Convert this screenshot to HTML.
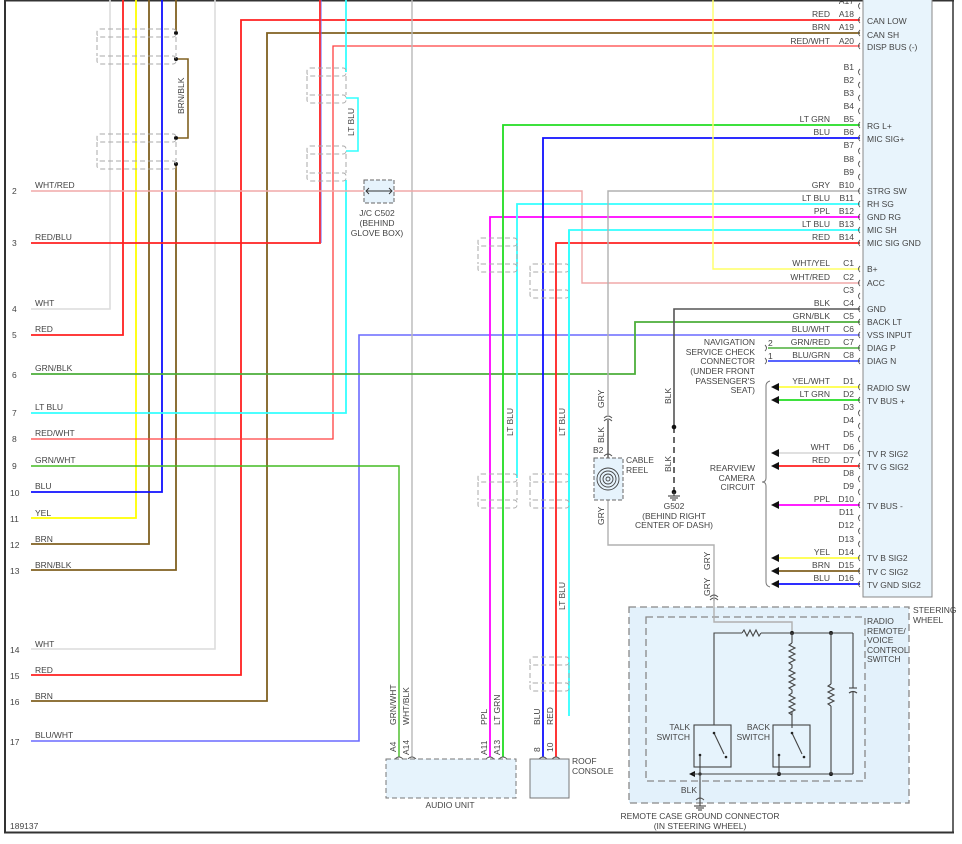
<!DOCTYPE html>
<html><head><meta charset="utf-8"><style>
html,body{margin:0;padding:0;background:#fff}
svg{display:block}
text{font-family:"Liberation Sans",Arial,sans-serif;font-size:8.5px;fill:#444}
</style></head><body>
<svg width="962" height="844" viewBox="0 0 962 844" xmlns="http://www.w3.org/2000/svg">
<rect x="0" y="0" width="962" height="844" fill="#fff"/>
<!-- frame -->
<line x1="5" y1="0" x2="5" y2="833" stroke="#333" stroke-width="2"/>
<line x1="4" y1="832.5" x2="954" y2="832.5" stroke="#333" stroke-width="2"/>
<line x1="953" y1="0" x2="953" y2="833" stroke="#333" stroke-width="1.5"/>
<line x1="4" y1="0.5" x2="954" y2="0.5" stroke="#333" stroke-width="2"/>

<!-- right component -->
<rect x="863" y="-2" width="69" height="599" fill="#e8f4fc" stroke="#888" stroke-width="1"/>

<!-- steering wheel boxes -->
<rect x="629" y="607" width="280" height="196" fill="#e3f1fb" stroke="#888" stroke-width="1.3" stroke-dasharray="7,4"/>
<rect x="646" y="617" width="219" height="164" fill="#e6f3fc" stroke="#888" stroke-width="1.3" stroke-dasharray="7,4"/>

<g fill="none" stroke-linejoin="miter">
<!-- left verticals going up -->
<polyline points="31,309 110,309 110,0" stroke="#dcdcdc" stroke-width="1.6"/>
<polyline points="31,335 123,335 123,0" stroke="#ff2020" stroke-width="1.8"/>
<polyline points="31,518 136,518 136,0" stroke="#ffff00" stroke-width="1.8"/>
<polyline points="31,544 149,544 149,0" stroke="#806020" stroke-width="1.8"/>
<polyline points="31,492 162,492 162,0" stroke="#1010ff" stroke-width="1.8"/>
<polyline points="31,570 176,570 176,164" stroke="#806020" stroke-width="1.8"/>
<polyline points="176,138 188,138 188,59 176,59" stroke="#806020" stroke-width="1.6"/>
<line x1="176" y1="33" x2="176" y2="0" stroke="#806020" stroke-width="1.8"/>
<polyline points="31,649 215,649 215,0" stroke="#dcdcdc" stroke-width="1.6"/>
<polyline points="31,675 241,675 241,20 860,20" stroke="#ff2020" stroke-width="1.8"/>
<polyline points="31,701 267,701 267,33 860,33" stroke="#806020" stroke-width="1.8"/>
<polyline points="31,243 320,243 320,0" stroke="#ff2020" stroke-width="1.8"/>
<line x1="321.2" y1="0" x2="321.2" y2="243" stroke="#7070ff" stroke-width="0.7"/>
<polyline points="31,439 333,439 333,46 860,46" stroke="#ff4040" stroke-width="1.3"/>
<polyline points="31,413 346,413 346,180" stroke="#33ffff" stroke-width="1.8"/>
<polyline points="346,151 358,151 358,98 346,98" stroke="#33ffff" stroke-width="1.6"/>
<line x1="346" y1="72" x2="346" y2="0" stroke="#33ffff" stroke-width="1.8"/>
<polyline points="31,741 359,741 359,335 860,335" stroke="#6a6aff" stroke-width="1.6"/>
<polyline points="31,466 399,466 399,757" stroke="#44bb22" stroke-width="1.4"/>
<line x1="412" y1="0" x2="412" y2="757" stroke="#b8b8b8" stroke-width="1.4"/>
<polyline points="31,374 635,374 635,322 860,322" stroke="#4caf3a" stroke-width="1.8"/>
<polyline points="31,191 582,191 582,283 860,283" stroke="#f0a8a8" stroke-width="1.4"/>
<!-- center wires to audio/roof -->
<polyline points="490,757 490,217 860,217" stroke="#ff00ff" stroke-width="1.8"/>
<polyline points="503,757 503,125 860,125" stroke="#22dd22" stroke-width="1.8"/>
<polyline points="517,478 517,204 860,204" stroke="#33ffff" stroke-width="1.8"/>
<polyline points="543,757 543,138 860,138" stroke="#1010ff" stroke-width="1.8"/>
<polyline points="556,757 556,243 860,243" stroke="#ff2020" stroke-width="1.8"/>
<polyline points="569,716 569,230 860,230" stroke="#33ffff" stroke-width="1.8"/>
<!-- gray B10 -->
<polyline points="860,191 608,191 608,415" stroke="#b0b0b0" stroke-width="1.4"/>
<line x1="608" y1="420" x2="608" y2="458" stroke="#555" stroke-width="1.4"/>
<polyline points="608,500 608,545 714,545 714,622 792,622 792,633" stroke="#b0b0b0" stroke-width="1.4"/>
<!-- WHT/YEL -->
<polyline points="713,0 713,269 860,269" stroke="#ffff66" stroke-width="1.4"/>
<!-- BLK C4 -->
<polyline points="860,309 674,309 674,427" stroke="#555" stroke-width="1.6"/>
<line x1="674" y1="427" x2="674" y2="492" stroke="#444" stroke-width="1.6" stroke-dasharray="6,4"/>
<!-- nav -->
<line x1="768" y1="348" x2="860" y2="348" stroke="#4caf3a" stroke-width="1.5"/>
<line x1="768" y1="361" x2="860" y2="361" stroke="#2030ff" stroke-width="1.5"/>
<!-- D rows -->
<line x1="778" y1="387" x2="860" y2="387" stroke="#ffff44" stroke-width="1.8"/>
<line x1="778" y1="400" x2="860" y2="400" stroke="#22dd22" stroke-width="1.8"/>
<line x1="778" y1="453" x2="860" y2="453" stroke="#dcdcdc" stroke-width="1.8"/>
<line x1="778" y1="466" x2="860" y2="466" stroke="#ff2020" stroke-width="1.8"/>
<line x1="778" y1="505" x2="860" y2="505" stroke="#ff00ff" stroke-width="1.8"/>
<line x1="778" y1="558" x2="860" y2="558" stroke="#ffff44" stroke-width="1.8"/>
<line x1="778" y1="571" x2="860" y2="571" stroke="#806020" stroke-width="1.8"/>
<line x1="778" y1="584" x2="860" y2="584" stroke="#1010ff" stroke-width="1.8"/>
<!-- brace -->
<path d="M770,381 Q766,382 766,386 L766,478 Q766,482 762,482 Q766,482 766,486 L766,582 Q766,586 770,587" stroke="#777" stroke-width="1"/>
<path d="M557,348 L557,361" stroke="#555" stroke-width="0"/>
</g>

<!-- arrowheads -->
<g fill="#111">
<polygon points="771,387 779,383 779,391"/><polygon points="771,400 779,396 779,404"/>
<polygon points="771,453 779,449 779,457"/><polygon points="771,466 779,462 779,470"/>
<polygon points="771,505 779,501 779,509"/><polygon points="771,558 779,554 779,562"/>
<polygon points="771,571 779,567 779,575"/><polygon points="771,584 779,580 779,588"/>
<polygon points="689,774 695,771 695,777"/>
<circle cx="176" cy="33" r="2"/><circle cx="176" cy="59" r="2"/><circle cx="176" cy="138" r="2"/><circle cx="176" cy="164" r="2"/>
<circle cx="674" cy="427" r="2.3"/><circle cx="674" cy="492" r="2.3"/>
<circle cx="379" cy="191" r="2.3"/>
<circle cx="792" cy="633" r="2"/><circle cx="831" cy="633" r="2"/><circle cx="779" cy="774" r="2"/><circle cx="831" cy="774" r="2"/><circle cx="700" cy="774" r="1.6"/>
</g>

<!-- pin connector glyphs -->
<g fill="none" stroke="#555" stroke-width="0.9">
<path d="M860,3 q-3,3 0,6"/>
<path d="M860,17 q-3,3 0,6"/><path d="M860,30 q-3,3 0,6"/><path d="M860,43 q-3,3 0,6"/>
<path d="M860,69 q-3,3 0,6"/><path d="M860,82 q-3,3 0,6"/><path d="M860,95 q-3,3 0,6"/><path d="M860,108 q-3,3 0,6"/>
<path d="M860,122 q-3,3 0,6"/><path d="M860,135 q-3,3 0,6"/><path d="M860,148 q-3,3 0,6"/><path d="M860,161 q-3,3 0,6"/>
<path d="M860,174 q-3,3 0,6"/><path d="M860,188 q-3,3 0,6"/><path d="M860,201 q-3,3 0,6"/><path d="M860,214 q-3,3 0,6"/>
<path d="M860,227 q-3,3 0,6"/><path d="M860,240 q-3,3 0,6"/>
<path d="M860,266 q-3,3 0,6"/><path d="M860,280 q-3,3 0,6"/><path d="M860,293 q-3,3 0,6"/><path d="M860,306 q-3,3 0,6"/>
<path d="M860,319 q-3,3 0,6"/><path d="M860,332 q-3,3 0,6"/><path d="M860,345 q-3,3 0,6"/><path d="M860,358 q-3,3 0,6"/>
<path d="M860,384 q-3,3 0,6"/><path d="M860,397 q-3,3 0,6"/><path d="M860,410 q-3,3 0,6"/><path d="M860,423 q-3,3 0,6"/>
<path d="M860,436 q-3,3 0,6"/><path d="M860,450 q-3,3 0,6"/><path d="M860,463 q-3,3 0,6"/><path d="M860,476 q-3,3 0,6"/>
<path d="M860,489 q-3,3 0,6"/><path d="M860,502 q-3,3 0,6"/><path d="M860,515 q-3,3 0,6"/><path d="M860,528 q-3,3 0,6"/>
<path d="M860,541 q-3,3 0,6"/><path d="M860,555 q-3,3 0,6"/><path d="M860,568 q-3,3 0,6"/><path d="M860,581 q-3,3 0,6"/>
<path d="M765,345 q3,3 0,6"/><path d="M765,358 q3,3 0,6"/>
<!-- bottom pins -->
<path d="M395,759 q4,-4 8,0"/><path d="M408,759 q4,-4 8,0"/><path d="M486,759 q4,-4 8,0"/><path d="M499,759 q4,-4 8,0"/>
<path d="M539,759 q4,-4 8,0"/><path d="M552,759 q4,-4 8,0"/>
<path d="M604,418 q4,-4 8,0"/><path d="M604,421 q4,-4 8,0"/><path d="M604,456 q4,-4 8,0"/>
<path d="M710,597 q4,-4 8,0"/><path d="M710,600 q4,-4 8,0"/>
<path d="M696,800 q4,-4 8,0"/>
</g>
<line x1="714" y1="597" x2="714" y2="601" stroke="#b0b0b0" stroke-width="1.4"/>

<!-- dashed splice connectors -->
<g fill="none" stroke="#aaa" stroke-width="1" stroke-dasharray="5,3">
<rect x="97" y="29" width="79" height="8" rx="3"/><rect x="97" y="56" width="79" height="8" rx="3"/><path d="M97,37V56M176,37V56"/>
<rect x="97" y="134" width="79" height="8" rx="3"/><rect x="97" y="161" width="79" height="8" rx="3"/><path d="M97,142V161M176,142V161"/>
<rect x="307" y="68" width="39" height="8" rx="3"/><rect x="307" y="95" width="39" height="8" rx="3"/><path d="M307,76V95M346,76V95"/>
<rect x="307" y="146" width="39" height="8" rx="3"/><rect x="307" y="173" width="39" height="8" rx="3"/><path d="M307,154V173M346,154V173"/>
<rect x="478" y="238" width="39" height="8" rx="3"/><rect x="478" y="264" width="39" height="8" rx="3"/><path d="M478,246V264M517,246V264"/>
<rect x="530" y="264" width="39" height="8" rx="3"/><rect x="530" y="290" width="39" height="8" rx="3"/><path d="M530,272V290M569,272V290"/>
<rect x="478" y="474" width="39" height="8" rx="3"/><rect x="478" y="500" width="39" height="8" rx="3"/><path d="M478,482V500M517,482V500"/>
<rect x="530" y="474" width="39" height="8" rx="3"/><rect x="530" y="500" width="39" height="8" rx="3"/><path d="M530,482V500M569,482V500"/>
<rect x="530" y="657" width="39" height="8" rx="3"/><rect x="530" y="683" width="39" height="8" rx="3"/><path d="M530,665V683M569,665V683"/>
</g>
<line x1="569" y1="500" x2="569" y2="230" stroke="#33ffff" stroke-width="1.8"/>

<!-- J/C C502 -->
<rect x="364" y="180" width="30" height="23" fill="#e6f3fc" stroke="#666" stroke-width="1" stroke-dasharray="4,2"/>
<path d="M366,191 H392 M369,188 L366,191 L369,194 M389,188 L392,191 L389,194" stroke="#333" fill="none" stroke-width="0.9"/>
<!-- cable reel -->
<rect x="594" y="458" width="29" height="42" fill="#e6f3fc" stroke="#666" stroke-width="1" stroke-dasharray="4,2"/>
<g fill="none" stroke="#444" stroke-width="0.9">
<circle cx="608" cy="479" r="2"/><circle cx="608" cy="479" r="5"/><circle cx="608" cy="479" r="8"/><circle cx="608" cy="479" r="11"/>
</g>
<!-- audio / roof -->
<rect x="386" y="759" width="130" height="39" fill="#e6f3fc" stroke="#777" stroke-width="1" stroke-dasharray="5,3"/>
<rect x="530" y="759" width="39" height="39" fill="#e6f3fc" stroke="#777" stroke-width="1"/>

<!-- steering circuit -->
<g fill="none" stroke="#444" stroke-width="1.1">
<polyline points="714,725 714,633 742,633"/>
<path d="M742,633 l2,-3 l3,6 l3,-6 l3,6 l3,-6 l3,6 l2,-3"/>
<line x1="761" y1="633" x2="853" y2="633"/>
<line x1="792" y1="633" x2="792" y2="643"/>
<path d="M792,643 l-3,2 l6,3 l-6,3 l6,3 l-6,3 l6,3 l-6,3 l3,2 v3 l-3,2 l6,3 l-6,3 l6,3 l-6,3 l6,3 l-6,3 l3,2 v3 l-3,2 l6,3 l-6,3 l6,3 l-6,3 l6,3 l-6,3 l3,2"/>
<line x1="792" y1="712" x2="792" y2="728"/>
<line x1="831" y1="633" x2="831" y2="684"/>
<path d="M831,684 l-3,2 l6,3 l-6,3 l6,3 l-6,3 l6,3 l-6,3 l3,2"/>
<line x1="831" y1="706" x2="831" y2="774"/>
<polyline points="853,633 853,688"/><line x1="849" y1="688" x2="857" y2="688"/>
<path d="M849,693 q4,-3 8,0"/><polyline points="853,692 853,774"/>
<line x1="693" y1="774" x2="853" y2="774"/>
<rect x="694" y="725" width="37" height="42"/>
<rect x="773" y="725" width="37" height="42"/>
<line x1="714" y1="733" x2="724" y2="754"/>
<line x1="792" y1="733" x2="802" y2="754"/>
<line x1="700" y1="755" x2="700" y2="802"/>
<line x1="779" y1="755" x2="779" y2="774"/>
<line x1="694" y1="806" x2="706" y2="806"/><line x1="696" y1="808" x2="704" y2="808"/><line x1="698" y1="810" x2="702" y2="810"/>
<line x1="700" y1="802" x2="700" y2="806"/>
<line x1="674" y1="492" x2="674" y2="496"/>
<line x1="668" y1="496" x2="680" y2="496"/><line x1="670" y1="498" x2="678" y2="498"/><line x1="672" y1="500" x2="676" y2="500"/>
</g>
<g fill="#222"><circle cx="714" cy="733" r="1.3"/><circle cx="726" cy="757" r="1.3"/><circle cx="700" cy="755" r="1.3"/>
<circle cx="792" cy="733" r="1.3"/><circle cx="804" cy="757" r="1.3"/><circle cx="779" cy="755" r="1.3"/></g>

<!-- left numbers and labels -->
<g>
<text x="12" y="194">2</text><text x="35" y="188">WHT/RED</text>
<text x="12" y="246">3</text><text x="35" y="240">RED/BLU</text>
<text x="12" y="312">4</text><text x="35" y="306">WHT</text>
<text x="12" y="338">5</text><text x="35" y="332">RED</text>
<text x="12" y="378">6</text><text x="35" y="371">GRN/BLK</text>
<text x="12" y="416">7</text><text x="35" y="410">LT BLU</text>
<text x="12" y="442">8</text><text x="35" y="436">RED/WHT</text>
<text x="12" y="469">9</text><text x="35" y="463">GRN/WHT</text>
<text x="10" y="496">10</text><text x="35" y="489">BLU</text>
<text x="10" y="522">11</text><text x="35" y="516">YEL</text>
<text x="10" y="548">12</text><text x="35" y="542">BRN</text>
<text x="10" y="574">13</text><text x="35" y="568">BRN/BLK</text>
<text x="10" y="653">14</text><text x="35" y="647">WHT</text>
<text x="10" y="679">15</text><text x="35" y="673">RED</text>
<text x="10" y="705">16</text><text x="35" y="699">BRN</text>
<text x="10" y="745">17</text><text x="35" y="738">BLU/WHT</text>
<text x="10" y="829">189137</text>
</g>
<!-- vertical labels -->
<g>
<text transform="translate(184,114) rotate(-90)">BRN/BLK</text>
<text transform="translate(354,136) rotate(-90)">LT BLU</text>
<text transform="translate(513,436) rotate(-90)">LT BLU</text>
<text transform="translate(565,436) rotate(-90)">LT BLU</text>
<text transform="translate(565,610) rotate(-90)">LT BLU</text>
<text transform="translate(396,725) rotate(-90)">GRN/WHT</text>
<text transform="translate(409,725) rotate(-90)">WHT/BLK</text>
<text transform="translate(487,725) rotate(-90)">PPL</text>
<text transform="translate(500,725) rotate(-90)">LT GRN</text>
<text transform="translate(540,725) rotate(-90)">BLU</text>
<text transform="translate(553,725) rotate(-90)">RED</text>
<text transform="translate(396,752) rotate(-90)">A4</text>
<text transform="translate(409,755) rotate(-90)">A14</text>
<text transform="translate(487,755) rotate(-90)">A11</text>
<text transform="translate(500,755) rotate(-90)">A13</text>
<text transform="translate(540,752) rotate(-90)">8</text>
<text transform="translate(553,752) rotate(-90)">10</text>
<text transform="translate(604,408) rotate(-90)">GRY</text>
<text transform="translate(604,443) rotate(-90)">BLK</text>
<text transform="translate(604,525) rotate(-90)">GRY</text>
<text transform="translate(671,404) rotate(-90)">BLK</text>
<text transform="translate(671,472) rotate(-90)">BLK</text>
<text transform="translate(710,570) rotate(-90)">GRY</text>
<text transform="translate(710,596) rotate(-90)">GRY</text>
</g>
<g>
<text x="593" y="453">B2</text>
<text x="626" y="463">CABLE</text><text x="626" y="473">REEL</text>
<text x="377" y="216" text-anchor="middle">J/C C502</text>
<text x="377" y="226" text-anchor="middle">(BEHIND</text>
<text x="377" y="236" text-anchor="middle">GLOVE BOX)</text>
<text x="674" y="509" text-anchor="middle">G502</text>
<text x="674" y="519" text-anchor="middle">(BEHIND RIGHT</text>
<text x="674" y="528" text-anchor="middle">CENTER OF DASH)</text>
<text x="450" y="808" text-anchor="middle">AUDIO UNIT</text>
<text x="572" y="764">ROOF</text><text x="572" y="774">CONSOLE</text>
<text x="913" y="613">STEERING</text><text x="913" y="623">WHEEL</text>
<text x="867" y="624">RADIO</text><text x="867" y="634">REMOTE/</text><text x="867" y="643">VOICE</text><text x="867" y="653">CONTROL</text><text x="867" y="662">SWITCH</text>
<text x="690" y="730" text-anchor="end">TALK</text><text x="690" y="740" text-anchor="end">SWITCH</text>
<text x="770" y="730" text-anchor="end">BACK</text><text x="770" y="740" text-anchor="end">SWITCH</text>
<text x="697" y="793" text-anchor="end">BLK</text>
<text x="700" y="819" text-anchor="middle">REMOTE CASE GROUND CONNECTOR</text>
<text x="700" y="829" text-anchor="middle">(IN STEERING WHEEL)</text>
<text x="755" y="345" text-anchor="end">NAVIGATION</text>
<text x="755" y="355" text-anchor="end">SERVICE CHECK</text>
<text x="755" y="364" text-anchor="end">CONNECTOR</text>
<text x="755" y="374" text-anchor="end">(UNDER FRONT</text>
<text x="755" y="384" text-anchor="end">PASSENGER'S</text>
<text x="755" y="393" text-anchor="end">SEAT)</text>
<text x="768" y="346">2</text><text x="768" y="359">1</text>
<text x="755" y="471" text-anchor="end">REARVIEW</text>
<text x="755" y="481" text-anchor="end">CAMERA</text>
<text x="755" y="490" text-anchor="end">CIRCUIT</text>
</g>
<!-- right pin labels -->
<g text-anchor="end">
<text x="854" y="4">A17</text>
<text x="830" y="17">RED</text><text x="854" y="17">A18</text>
<text x="830" y="30">BRN</text><text x="854" y="30">A19</text>
<text x="830" y="44">RED/WHT</text><text x="854" y="44">A20</text>
<text x="854" y="70">B1</text><text x="854" y="83">B2</text><text x="854" y="96">B3</text><text x="854" y="109">B4</text>
<text x="830" y="122">LT GRN</text><text x="854" y="122">B5</text>
<text x="830" y="135">BLU</text><text x="854" y="135">B6</text>
<text x="854" y="148">B7</text><text x="854" y="162">B8</text><text x="854" y="175">B9</text>
<text x="830" y="188">GRY</text><text x="854" y="188">B10</text>
<text x="830" y="201">LT BLU</text><text x="854" y="201">B11</text>
<text x="830" y="214">PPL</text><text x="854" y="214">B12</text>
<text x="830" y="227">LT BLU</text><text x="854" y="227">B13</text>
<text x="830" y="240">RED</text><text x="854" y="240">B14</text>
<text x="830" y="266">WHT/YEL</text><text x="854" y="266">C1</text>
<text x="830" y="280">WHT/RED</text><text x="854" y="280">C2</text>
<text x="854" y="293">C3</text>
<text x="830" y="306">BLK</text><text x="854" y="306">C4</text>
<text x="830" y="319">GRN/BLK</text><text x="854" y="319">C5</text>
<text x="830" y="332">BLU/WHT</text><text x="854" y="332">C6</text>
<text x="830" y="345">GRN/RED</text><text x="854" y="345">C7</text>
<text x="830" y="358">BLU/GRN</text><text x="854" y="358">C8</text>
<text x="830" y="384">YEL/WHT</text><text x="854" y="384">D1</text>
<text x="830" y="397">LT GRN</text><text x="854" y="397">D2</text>
<text x="854" y="410">D3</text><text x="854" y="423">D4</text><text x="854" y="437">D5</text>
<text x="830" y="450">WHT</text><text x="854" y="450">D6</text>
<text x="830" y="463">RED</text><text x="854" y="463">D7</text>
<text x="854" y="476">D8</text><text x="854" y="489">D9</text>
<text x="830" y="502">PPL</text><text x="854" y="502">D10</text>
<text x="854" y="515">D11</text><text x="854" y="528">D12</text><text x="854" y="542">D13</text>
<text x="830" y="555">YEL</text><text x="854" y="555">D14</text>
<text x="830" y="568">BRN</text><text x="854" y="568">D15</text>
<text x="830" y="581">BLU</text><text x="854" y="581">D16</text>
</g>
<g>
<text x="867" y="24">CAN LOW</text><text x="867" y="38">CAN SH</text><text x="867" y="50">DISP BUS (-)</text>
<text x="867" y="129">RG L+</text><text x="867" y="142">MIC SIG+</text>
<text x="867" y="194">STRG SW</text><text x="867" y="207">RH SG</text><text x="867" y="220">GND RG</text><text x="867" y="233">MIC SH</text><text x="867" y="246">MIC SIG GND</text>
<text x="867" y="272">B+</text><text x="867" y="286">ACC</text>
<text x="867" y="312">GND</text><text x="867" y="325">BACK LT</text><text x="867" y="338">VSS INPUT</text><text x="867" y="351">DIAG P</text><text x="867" y="364">DIAG N</text>
<text x="867" y="391">RADIO SW</text><text x="867" y="404">TV BUS +</text>
<text x="867" y="457">TV R SIG2</text><text x="867" y="470">TV G SIG2</text>
<text x="867" y="509">TV BUS -</text>
<text x="867" y="561">TV B SIG2</text><text x="867" y="575">TV C SIG2</text><text x="867" y="588">TV GND SIG2</text>
</g>
</svg>
</body></html>
